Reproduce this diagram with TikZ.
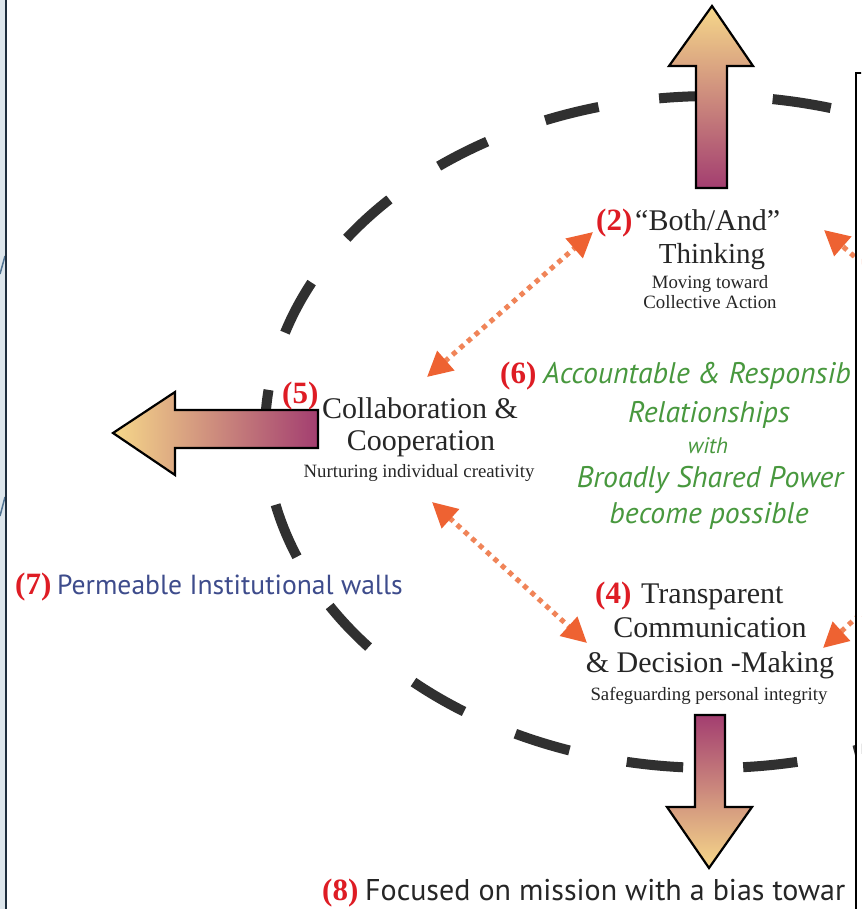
\documentclass[tikz,border=0pt]{standalone}
\usepackage{fontspec}
\setmainfont{Liberation Serif}
\newfontfamily\gill{PT Sans}
\usetikzlibrary{arrows.meta,calc}
\definecolor{numred}{RGB}{222,28,36}
\definecolor{txt}{RGB}{38,38,38}
\definecolor{dashc}{RGB}{48,48,48}
\definecolor{grn}{RGB}{72,152,62}
\definecolor{blu}{RGB}{62,76,140}
\definecolor{dotc}{RGB}{240,132,88}
\definecolor{headc}{RGB}{238,98,50}
\definecolor{agold}{RGB}{246,216,138}
\definecolor{amid}{RGB}{218,140,112}
\definecolor{amaroon}{RGB}{163,62,112}
\definecolor{stripc}{RGB}{221,230,236}
\definecolor{edgec}{RGB}{30,45,60}
\definecolor{curvec}{RGB}{80,115,145}
\begin{document}
\begin{tikzpicture}[x=1pt,y=-1pt,
  dashseg/.style={draw=dashc,line width=10pt},
  bigarrow/.style={draw=black,line width=2.2pt,line join=miter},
  dotarrow/.style={draw=dotc,line width=5pt,dash pattern=on 5pt off 5pt,
     >={Triangle[length=25pt,width=25pt,color=headc]}},
  numlbl/.style={anchor=base west,inner sep=0pt,text=numred,font=\bfseries\fontsize{31}{34}\selectfont},
  mainlbl/.style={anchor=base,inner sep=0pt,text=txt,font=\fontsize{30}{34}\selectfont},
  sublbl/.style={anchor=base,inner sep=0pt,text=txt,font=\fontsize{18.8}{22}\selectfont},
  greenlbl/.style={anchor=base,inner sep=0pt,text=grn,font=\gill\itshape\fontsize{29.8}{32}\selectfont},
  sanslbl/.style={anchor=base west,inner sep=0pt,font=\gill\fontsize{27.6}{30}\selectfont}]
\useasboundingbox (0,0) rectangle (861,909);
\clip (0,0) rectangle (861,909);
\fill[white] (0,0) rectangle (861,909);
% dashed ellipse
\coordinate (C) at (712,432);
\foreach \a/\b in {-82.2/-74.6,-96.8/-89.6,-111.9/-104.7,-127.7/-120.2,-144.8/-136.2,-162.8/-153.6,177.5/187.2,158.2/167.5,140.2/148.8,123.7/131.9,108.6/116.1,93.7/101,79/86,64/71.5}
  \draw[dashseg] (C) ++(\a:447 and 336) arc[start angle=\a,end angle=\b,x radius=447,y radius=336];
% big shaded arrows
\shadedraw[bigarrow,top color=agold,middle color=amid,bottom color=amaroon]
  (712,6) -- (753,66) -- (727,66) -- (727,188) -- (696,188) -- (696,66) -- (669,66) -- cycle;
\shadedraw[bigarrow,left color=agold,middle color=amid,right color=amaroon]
  (113,433) -- (175,392) -- (175,410) -- (318,410) -- (318,448) -- (175,448) -- (175,475) -- cycle;
\shadedraw[bigarrow,top color=amaroon,middle color=amid,bottom color=agold]
  (695,715) -- (725,715) -- (725,807) -- (752,807) -- (709,868) -- (667,807) -- (695,807) -- cycle;
% labels
\node[numlbl] (l2) at (596,230) {(2)};
\node[anchor=base west,inner sep=0pt,text=txt,font=\fontsize{30}{34}\selectfont] (t2a) at (635,230) {“Both/And”};
\node[mainlbl,font=\fontsize{29}{34}\selectfont] (t2b) at (712,263) {Thinking};
\node[sublbl] (t2c) at (710,288) {Moving toward};
\node[sublbl] (t2d) at (710,308) {Collective Action};
\node[numlbl] (l5) at (282,403) {(5)};
\node[mainlbl] (t5a) at (420,418) {Collaboration \&};
\node[mainlbl] (t5b) at (421,450) {Cooperation};
\node[sublbl] (t5c) at (419,477) {Nurturing individual creativity};
\node[numlbl] (l4) at (595,603) {(4)};
\node[anchor=base west,inner sep=0pt,text=txt,font=\fontsize{30}{34}\selectfont] (t4a) at (641,603) {Transparent};
\node[mainlbl] (t4b) at (710,637) {Communication};
\node[mainlbl] (t4c) at (710,672) {\& Decision -Making};
\node[sublbl] (t4d) at (709,700) {Safeguarding personal integrity};
\node[numlbl] (l6) at (500,383) {(6)};
\node[greenlbl,anchor=base west] (t6a) at (543,383) {Accountable \& Responsib};
\node[greenlbl] (t6b) at (709,422) {Relationships};
\node[greenlbl,font=\gill\itshape\fontsize{22.5}{24}\selectfont] (t6c) at (708,453) {with};
\node[greenlbl] (t6d) at (710,487) {Broadly Shared Power};
\node[greenlbl] (t6e) at (709,523) {become possible};
\node[numlbl] (l7) at (15,594) {(7)};
\node[sanslbl,text=blu] (t7) at (57,594) {Permeable Institutional walls};
\node[numlbl] (l8) at (322,900) {(8)};
\node[sanslbl,text=txt,font=\gill\fontsize{30}{32}\selectfont] (t8) at (365,900) {Focused on mission with a bias towar};
% dotted double arrows
\coordinate (a1) at (593,232); \coordinate (a2) at (427,377);
\draw[dotarrow,<->] (a2) -- (a1);
\coordinate (b1) at (432,502); \coordinate (b2) at (587,643);
\draw[dotarrow,<->] (b1) -- (b2);
\coordinate (c1) at (824,230); \coordinate (c0) at (990,375);
\draw[dotarrow,->] (c0) -- (c1);
\coordinate (d1) at (823,648); \coordinate (d0) at (978,507);
\draw[dotarrow,->] (d0) -- (d1);
% right panel
\draw[line width=2.2pt,fill=white] (856,73) rectangle (920,960);
% left slide edge
\fill[stripc] (0,0) rectangle (5,909);
\draw[curvec,line width=1.5pt] (0,274) -- (5,256);
\draw[curvec,line width=1.5pt] (0,516) -- (5,497);
\draw[edgec,line width=2pt] (5.5,0) -- (5.5,909);
\end{tikzpicture}
\end{document}
